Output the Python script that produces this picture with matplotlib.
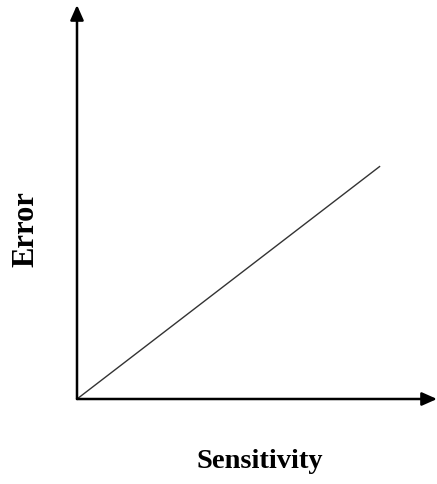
import matplotlib
matplotlib.use("Agg")
import matplotlib.pyplot as plt

# Data (arbitrary units, schematic)
sensitivity = [0.0, 0.842]
error = [0.0, 0.591]

x_label = "Sensitivity"
y_label = "Error"

fig = plt.figure(figsize=(4.37, 4.84), dpi=100)
ax = fig.add_axes([77 / 437, 85 / 484, 360 / 437, 394 / 484])
ax.set_xlim(0, 1)
ax.set_ylim(0, 1)
ax.axis("off")

# Axes with arrow heads
arrow_style = dict(arrowstyle="-|>,head_length=0.9,head_width=0.4",
                   color="black", lw=1.8, shrinkA=0, shrinkB=0)
ax.annotate("", xy=(1, 0), xytext=(0, 0), xycoords="axes fraction",
            arrowprops=arrow_style)
ax.annotate("", xy=(0, 1), xytext=(0, 0), xycoords="axes fraction",
            arrowprops=arrow_style)

# The straight line
ax.plot(sensitivity, error, color="#333333", lw=1.0, solid_capstyle="butt")

fig.text(260 / 437, 1 - 461 / 484, x_label, ha="center", va="center",
         family="Liberation Serif", fontweight="bold", fontsize=20.5)
fig.text(26 / 437, 1 - 229 / 484, y_label, ha="center", va="center",
         rotation=90, family="Liberation Serif", fontweight="bold",
         fontsize=22)

fig.savefig("out.png", dpi=100)
